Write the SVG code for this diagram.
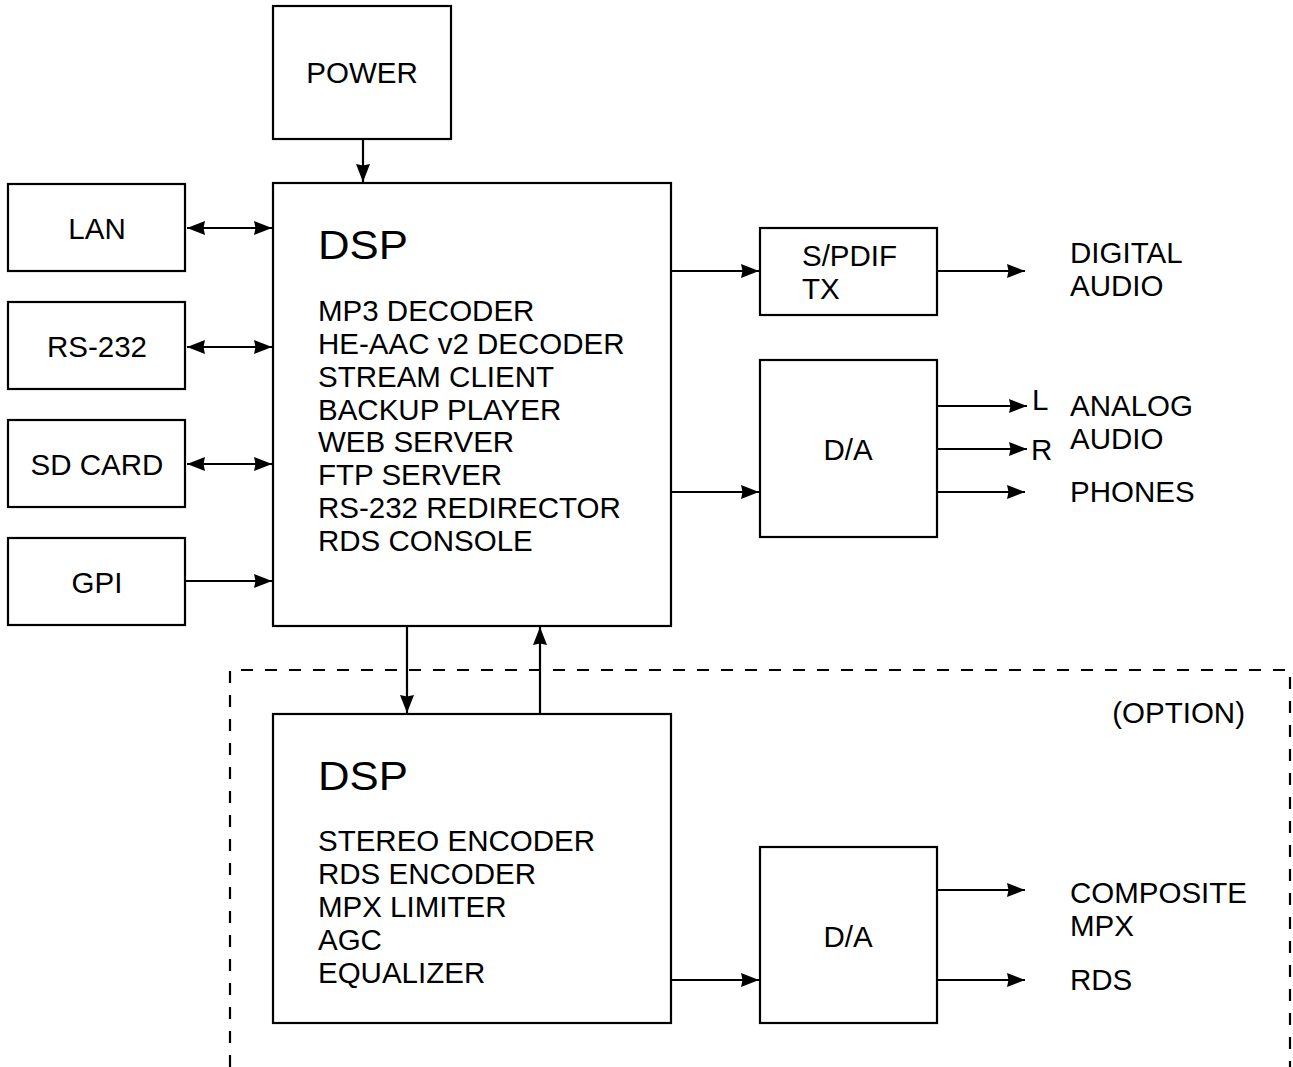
<svg xmlns="http://www.w3.org/2000/svg" width="1293" height="1067" viewBox="0 0 1293 1067">
<defs>
<marker id="ah" viewBox="0 0 18 14" refX="18" refY="7" markerWidth="18" markerHeight="14" markerUnits="userSpaceOnUse" orient="auto-start-reverse">
<path d="M0,0 L18,7 L0,14 L1.5,7 Z" fill="#000"/>
</marker>
<style>
.box{fill:#fff;stroke:#000;stroke-width:2.2}
.t{font-family:"Liberation Sans",Arial,sans-serif;font-size:29.5px;fill:#000}
.big{font-family:"Liberation Sans",Arial,sans-serif;font-size:40px;fill:#000}
.c{stroke:#000;stroke-width:2.2;fill:none}
.a{marker-end:url(#ah)}
.b{marker-start:url(#ah);marker-end:url(#ah)}
</style>
</defs>
<rect width="1293" height="1067" fill="#fff"/>
<path d="M230,1067 L230,670 L1290,670 L1290,1067" fill="none" stroke="#000" stroke-width="2.2" stroke-dasharray="12,12"/>
<text class="t" x="1245" y="723" text-anchor="end">(OPTION)</text>
<g id="connectors">
<line class="c a" x1="363" y1="139" x2="363" y2="182"/>
<line class="c b" x1="187" y1="228" x2="272" y2="228"/>
<line class="c b" x1="187" y1="347" x2="272" y2="347"/>
<line class="c b" x1="187" y1="464" x2="272" y2="464"/>
<line class="c a" x1="185" y1="581" x2="272" y2="581"/>
<line class="c a" x1="672" y1="271" x2="759" y2="271"/>
<line class="c a" x1="937" y1="271" x2="1025" y2="271"/>
<line class="c a" x1="937" y1="406" x2="1027" y2="406"/>
<line class="c a" x1="937" y1="449" x2="1027" y2="449"/>
<line class="c a" x1="937" y1="492" x2="1025" y2="492"/>
<line class="c a" x1="672" y1="492" x2="759" y2="492"/>
<line class="c a" x1="407" y1="626" x2="407" y2="713"/>
<line class="c a" x1="540" y1="714" x2="540" y2="627"/>
<line class="c a" x1="672" y1="980" x2="759" y2="980"/>
<line class="c a" x1="937" y1="890" x2="1025" y2="890"/>
<line class="c a" x1="937" y1="980" x2="1025" y2="980"/>
</g>
<g id="power"><rect class="box" x="273" y="6" width="178" height="133"/><text class="t" x="362" y="83" text-anchor="middle">POWER</text></g>
<g id="lan"><rect class="box" x="8" y="184" width="177" height="87"/><text class="t" x="97" y="239" text-anchor="middle">LAN</text></g>
<g id="rs232"><rect class="box" x="8" y="302" width="177" height="87"/><text class="t" x="97" y="357" text-anchor="middle">RS-232</text></g>
<g id="sdcard"><rect class="box" x="8" y="420" width="177" height="87"/><text class="t" x="97" y="475" text-anchor="middle">SD CARD</text></g>
<g id="gpi"><rect class="box" x="8" y="538" width="177" height="87"/><text class="t" x="97" y="593" text-anchor="middle">GPI</text></g>
<g id="dsp1"><rect class="box" x="273" y="183" width="398" height="443"/>
<text class="big" x="318" y="259" textLength="90" lengthAdjust="spacingAndGlyphs">DSP</text>
<text class="t" x="318" y="321">MP3 DECODER</text>
<text class="t" x="318" y="354">HE-AAC v2 DECODER</text>
<text class="t" x="318" y="387">STREAM CLIENT</text>
<text class="t" x="318" y="420">BACKUP PLAYER</text>
<text class="t" x="318" y="452">WEB SERVER</text>
<text class="t" x="318" y="485">FTP SERVER</text>
<text class="t" x="318" y="518">RS-232 REDIRECTOR</text>
<text class="t" x="318" y="551">RDS CONSOLE</text>
</g>
<g id="spdif"><rect class="box" x="760" y="228" width="177" height="87"/><text class="t" x="802" y="266">S/PDIF</text><text class="t" x="802" y="299">TX</text></g>
<g id="da1"><rect class="box" x="760" y="360" width="177" height="177"/><text class="t" x="848" y="460" text-anchor="middle">D/A</text></g>
<g id="dsp2"><rect class="box" x="273" y="714" width="398" height="309"/>
<text class="big" x="318" y="790" textLength="90" lengthAdjust="spacingAndGlyphs">DSP</text>
<text class="t" x="318" y="851">STEREO ENCODER</text>
<text class="t" x="318" y="884">RDS ENCODER</text>
<text class="t" x="318" y="917">MPX LIMITER</text>
<text class="t" x="318" y="950">AGC</text>
<text class="t" x="318" y="983">EQUALIZER</text>
</g>
<g id="da2"><rect class="box" x="760" y="847" width="177" height="176"/><text class="t" x="848" y="947" text-anchor="middle">D/A</text></g>
<g id="labels">
<text class="t" x="1032" y="410">L</text>
<text class="t" x="1031" y="460">R</text>
<text class="t" x="1070" y="263">DIGITAL</text>
<text class="t" x="1070" y="296">AUDIO</text>
<text class="t" x="1070" y="416">ANALOG</text>
<text class="t" x="1070" y="449">AUDIO</text>
<text class="t" x="1070" y="502">PHONES</text>
<text class="t" x="1070" y="903">COMPOSITE</text>
<text class="t" x="1070" y="936">MPX</text>
<text class="t" x="1070" y="990">RDS</text>
</g>
</svg>
